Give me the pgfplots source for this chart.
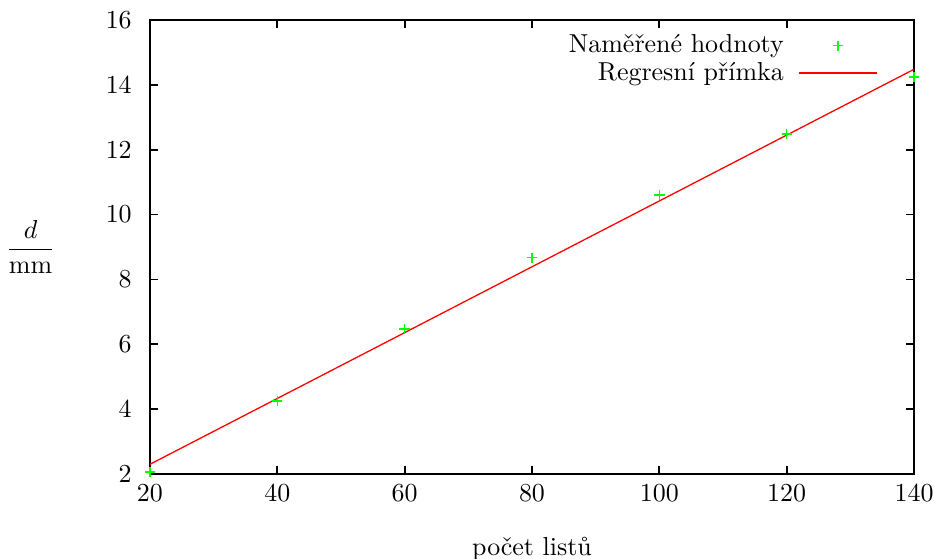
\documentclass[border=0pt]{standalone}
\usepackage{pgfplots}
\pgfplotsset{compat=1.18}
\definecolor{gpgreen}{rgb}{0,1,0}
\definecolor{gpred}{rgb}{1,0,0}

\begin{document}
\begin{tikzpicture}
\begin{axis}[
name=ax,
scale only axis,
width=294.5pt,height=175pt,
xmin=20,xmax=140,ymin=2,ymax=16,
xtick={20,40,...,140},ytick={2,4,...,16},
tick align=inside,major tick length=3pt,
axis line style={line width=0.7pt},
every tick/.style={black,line width=0.7pt},
yticklabel style={xshift=-3.5pt},
xticklabel style={yshift=-0.5pt},
xlabel={počet listů},
xlabel style={at={(0.5,0)},anchor=north,yshift=-21pt},
ylabel={$\displaystyle\frac{d}{\mathrm{mm}}$},
ylabel style={rotate=-90,at={(0,0.5)},anchor=center,xshift=-46pt},
legend plot pos=right,
legend cell align=right,
legend style={draw=none,fill=none,at={(1,1)},anchor=north east,
  xshift=-11pt,yshift=-1.5pt,row sep=-2pt,column sep=3.5pt,font=\normalsize},
legend image code/.code={\draw[mark repeat=2,mark phase=2,#1] plot coordinates {(0pt,0pt) (15.2pt,0pt) (30pt,0pt)};},
]
\addplot[only marks,mark=+,mark size=2pt,gpgreen,line width=0.55pt]
coordinates {(20,2.06) (40,4.25) (60,6.47) (80,8.67) (100,10.6) (120,12.48) (140,14.24)};
\addlegendentry{Naměřené hodnoty}
\addplot[gpred,line width=0.5pt,no marks]
coordinates {(20,2.3) (140,14.48)};
\addlegendentry{Regresní přímka}
\end{axis}
\pgfresetboundingbox
\path (ax.south west) ++(-57.8pt,-32.4pt) coordinate (bl);
\path (ax.north east) ++(7.7pt,7.7pt) coordinate (tr);
\path[use as bounding box] (bl) rectangle (tr);
\end{tikzpicture}
\end{document}
